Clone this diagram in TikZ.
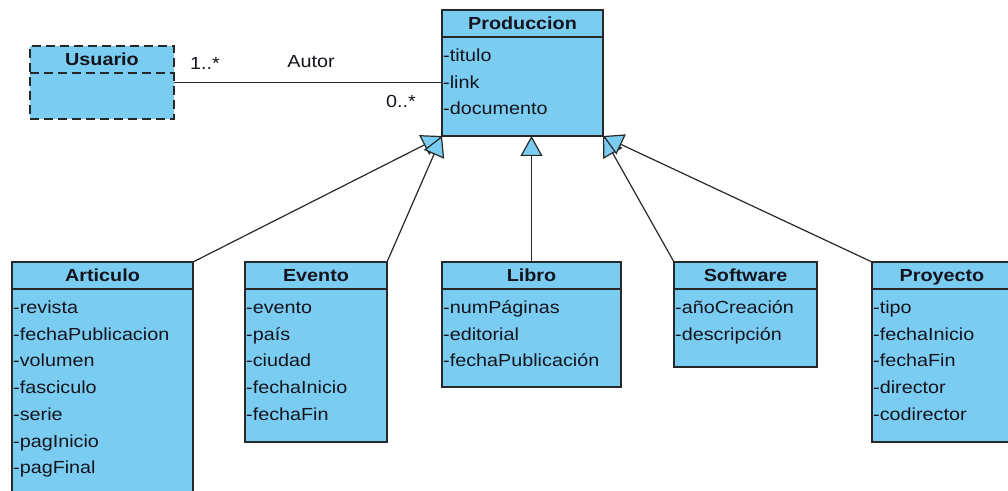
\documentclass[tikz,border=0pt]{standalone}
\usepackage{fontspec}
\setmainfont{Liberation Sans}[FakeStretch=1.13]
\usetikzlibrary{arrows.meta}
\definecolor{umlblue}{RGB}{122,205,241}
\definecolor{umlline}{RGB}{40,40,40}
\definecolor{umltext}{RGB}{20,20,30}
\newcommand\umlclass[7]{%
  \node[cls, anchor=north west, minimum width=#4bp, minimum height=#5bp] (#1) at (#2,#3) {};
  \draw[cline] ([yshift=-27bp]#1.north west) -- ([yshift=-27bp]#1.north east);
  \node[ctitle] (#1-t) at ([yshift=-13.5bp]#1.north) {#6};
  \foreach \a [count=\i] in {#7} {
    \node[cattr] (#1-a\i) at ([xshift=1bp, yshift={-45bp-26.7bp*(\i-1)}]#1.north west) {\a};
  }%
}
\begin{document}
\begin{tikzpicture}[x=1bp, y=-1bp,
  cls/.style={draw=umlline, fill=umlblue, line width=1.5bp, outer sep=0pt, inner sep=0pt},
  cline/.style={draw=umlline, line width=1.5bp},
  txt/.style={font=\fontsize{17.5bp}{20bp}\selectfont, text=umltext, inner sep=0pt, text height=16.5bp, text depth=3.5bp},
  ctitle/.style={txt, font=\fontsize{17.5bp}{20bp}\selectfont\bfseries},
  cattr/.style={txt, anchor=west},
  lbl/.style={txt},
  gen/.style={draw=umlline, line width=1.2bp, -{Triangle[length=20bp, width=22bp, fill=umlblue, line width=1.2bp]}},
  assoc/.style={draw=umlline, line width=1.2bp}]
\useasboundingbox (0,0) rectangle (1008,491);
\fill[white] (0,0) rectangle (1008,491);
\clip (0,0) rectangle (1008,491);

% Produccion
\umlclass{prod}{442}{10}{161}{126}{Produccion}{-titulo,-link,-documento}

% Usuario (dashed)
\node[cls, dash pattern=on 9bp off 5bp, anchor=north west, minimum width=144bp, minimum height=73bp] (usr) at (30,46) {};
\draw[cline, dash pattern=on 9bp off 5bp] ([yshift=-27bp]usr.north west) -- ([yshift=-27bp]usr.north east);
\node[ctitle] (usr-t) at ([yshift=-13.5bp]usr.north) {Usuario};

% Subclasses
\umlclass{art}{12}{262}{181}{240}{Articulo}{-revista,-fechaPublicacion,-volumen,-fasciculo,-serie,-pagInicio,-pagFinal}
\umlclass{evt}{245}{262}{142}{180}{Evento}{-evento,-país,-ciudad,-fechaInicio,-fechaFin}
\umlclass{lib}{442}{262}{179}{125}{Libro}{-numPáginas,-editorial,-fechaPublicación}
\umlclass{sw}{674}{262}{143}{105}{Software}{-añoCreación,-descripción}
\umlclass{proy}{872}{262}{140}{180}{Proyecto}{-tipo,-fechaInicio,-fechaFin,-director,-codirector}

% Association
\draw[assoc] (usr.east) -- (usr.east -| prod.west);
\node[lbl, anchor=west] (m1) at (190,63) {1..*};
\node[lbl] (role) at (311,61) {Autor};
\node[lbl, anchor=west] (m2) at (386,101) {0..*};

% Generalizations
\draw[gen] (art.north east) -- (prod.south west);
\draw[gen] (evt.north east) -- (prod.south west);
\draw[gen] (lib.north) -- (lib.north |- prod.south);
\draw[gen] (sw.north west) -- (prod.south east);
\draw[gen] (proy.north west) -- (prod.south east);
\end{tikzpicture}
\end{document}
